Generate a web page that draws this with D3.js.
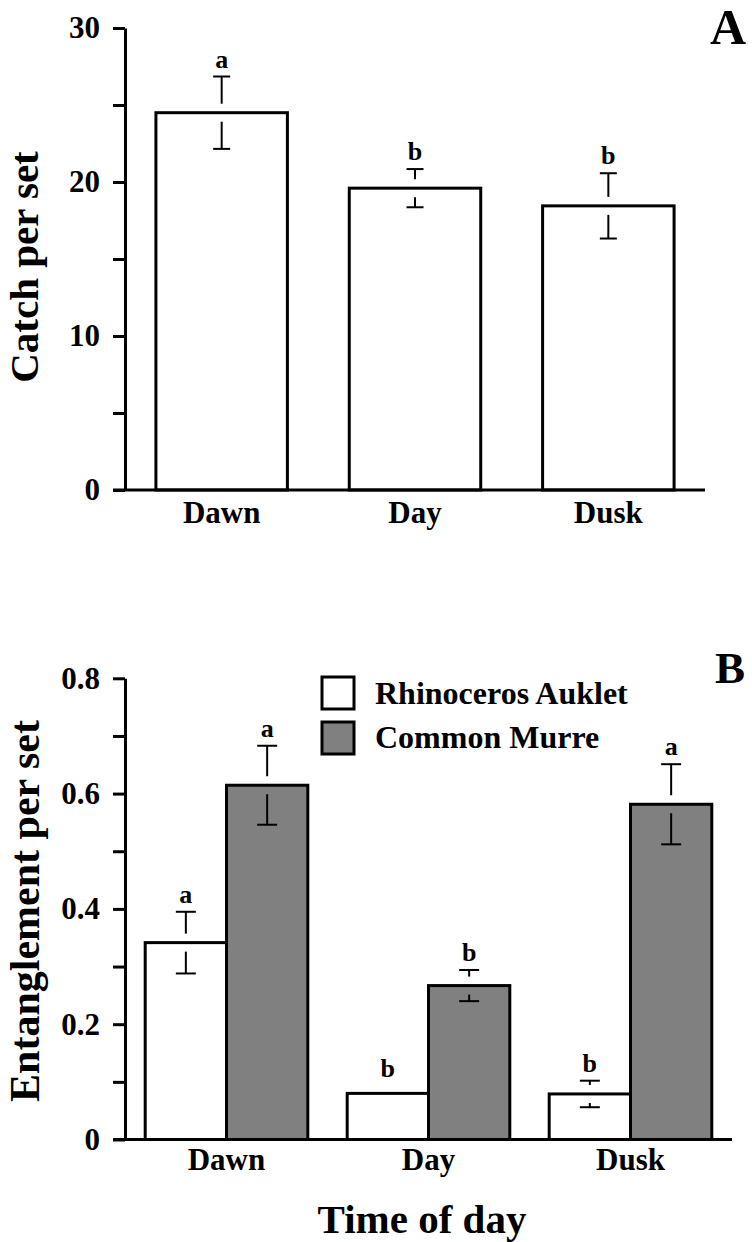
<!DOCTYPE html>
<html>
<head>
<meta charset="utf-8">
<script src="https://cdn.jsdelivr.net/npm/d3@7"></script>
<style>
  html, body { margin: 0; padding: 0; background: #fff; }
  svg text { font-family: "Liberation Serif", "Times New Roman", serif; font-weight: bold; fill: #000; }
</style>
</head>
<body>
<svg id="chart" width="752" height="1242"></svg>
<script>
// ---- data ----
const categories = ["Dawn", "Day", "Dusk"];

// Panel A
const catchMean = [24.5, 19.6, 18.45];
const catchErr = [2.35, 1.24, 2.12];
const catchLetters = ["a", "b", "b"];
const catchTicks = [0, 5, 10, 15, 20, 25, 30];
const catchTickLabels = [0, 10, 20, 30];

// Panel B
const series = ["Rhinoceros Auklet", "Common Murre"];
const aukletMean = [0.3415, 0.080, 0.079];
const aukletErr = [0.0535, 0, 0.023];
const aukletLetters = ["a", "b", "b"];
const murreMean = [0.6145, 0.267, 0.5815];
const murreErr = [0.0685, 0.027, 0.0695];
const murreLetters = ["a", "b", "a"];
const entTicks = [0, 0.1, 0.2, 0.3, 0.4, 0.5, 0.6, 0.7, 0.8];
const entTickLabels = [0, 0.2, 0.4, 0.6, 0.8];
const seriesFill = ["#ffffff", "#808080"];

const svg = d3.select("#chart");
const GAP = 9;

function errorBar(g, cx, yTop, yHi, yLo, capW) {
  if (yTop - GAP > yHi + 0.5) {
    g.append("line").attr("x1", cx).attr("x2", cx).attr("y1", yHi).attr("y2", yTop - GAP)
      .attr("stroke", "#000").attr("stroke-width", 2);
    g.append("line").attr("x1", cx - capW / 2).attr("x2", cx + capW / 2).attr("y1", yHi).attr("y2", yHi)
      .attr("stroke", "#000").attr("stroke-width", 2);
  }
  if (yLo > yTop + GAP + 0.5) {
    g.append("line").attr("x1", cx).attr("x2", cx).attr("y1", yTop + GAP).attr("y2", yLo)
      .attr("stroke", "#000").attr("stroke-width", 2);
    g.append("line").attr("x1", cx - capW / 2).attr("x2", cx + capW / 2).attr("y1", yLo).attr("y2", yLo)
      .attr("stroke", "#000").attr("stroke-width", 2);
  }
}

function yAxisDraw(scale, x, ticks, labels, fmt) {
  const ax = d3.axisLeft(scale)
    .tickValues(ticks)
    .tickSize(12)
    .tickSizeOuter(0)
    .tickPadding(13)
    .tickFormat(d => labels.some(l => Math.abs(l - d) < 1e-9) ? fmt(d) : "");
  const g = svg.append("g").attr("transform", `translate(${x},0)`).call(ax);
  g.select(".domain").attr("stroke", "#000").attr("stroke-width", 3);
  g.selectAll(".tick line").attr("stroke", "#000").attr("stroke-width", 3);
  g.selectAll(".tick text").style("font-size", "31px").attr("fill", "#000");
  return g;
}

// ================= Panel A =================
const yA = d3.scaleLinear().domain([0, 30]).range([490, 28]);
const xA = d3.scaleBand().domain(categories).range([125, 705]).paddingInner(0.32).paddingOuter(0.16);

const gA = svg.append("g");
gA.selectAll("rect.bar").data(categories).enter().append("rect")
  .attr("class", "bar")
  .attr("x", d => xA(d))
  .attr("y", (d, i) => yA(catchMean[i]))
  .attr("width", xA.bandwidth())
  .attr("height", (d, i) => yA(0) - yA(catchMean[i]))
  .attr("fill", "#fff").attr("stroke", "#000").attr("stroke-width", 3);

categories.forEach((c, i) => {
  const cx = xA(c) + xA.bandwidth() / 2;
  const yHi = yA(catchMean[i] + catchErr[i]);
  errorBar(gA, cx, yA(catchMean[i]), yHi, yA(catchMean[i] - catchErr[i]), 17);
  gA.append("text").attr("x", cx).attr("y", yHi - 9).attr("text-anchor", "middle")
    .style("font-size", "26px").text(catchLetters[i]);
});

yAxisDraw(yA, 125, catchTicks, catchTickLabels, d => String(d));
// x axis line A
svg.append("line").attr("x1", 113).attr("x2", 705).attr("y1", yA(0)).attr("y2", yA(0))
  .attr("stroke", "#000").attr("stroke-width", 3);
svg.append("g").selectAll("text").data(categories).enter().append("text")
  .attr("x", d => xA(d) + xA.bandwidth() / 2).attr("y", 523)
  .attr("text-anchor", "middle").style("font-size", "31px").text(d => d);

svg.append("text").attr("transform", "translate(38,267) rotate(-90)")
  .attr("text-anchor", "middle").style("font-size", "41px").text("Catch per set");
svg.append("text").attr("x", 746).attr("y", 44).attr("text-anchor", "end")
  .style("font-size", "50px").text("A");

// ================= Panel B =================
const yB = d3.scaleLinear().domain([0, 0.8]).range([1139.5, 678.3]);
const x0 = d3.scaleBand().domain(categories).range([125, 732]).paddingInner(0.195).paddingOuter(0.1);
const x1 = d3.scaleBand().domain(series).range([0, x0.bandwidth()]);

const means = [aukletMean, murreMean];
const errs = [aukletErr, murreErr];
const letters = [aukletLetters, murreLetters];

const gB = svg.append("g");
categories.forEach((c, i) => {
  series.forEach((s, j) => {
    const x = x0(c) + x1(s);
    const m = means[j][i];
    gB.append("rect").attr("x", x).attr("y", yB(m))
      .attr("width", x1.bandwidth()).attr("height", yB(0) - yB(m))
      .attr("fill", seriesFill[j]).attr("stroke", "#000").attr("stroke-width", 3);
  });
});
categories.forEach((c, i) => {
  series.forEach((s, j) => {
    const cx = x0(c) + x1(s) + x1.bandwidth() / 2;
    const m = means[j][i], e = errs[j][i];
    let labelY;
    if (e > 0) {
      const yHi = yB(m + e);
      errorBar(gB, cx, yB(m), yHi, yB(m - e), 20);
      labelY = yHi - 9;
    } else {
      labelY = yB(m) - 16;
    }
    gB.append("text").attr("x", cx).attr("y", labelY).attr("text-anchor", "middle")
      .style("font-size", "26px").text(letters[j][i]);
  });
});

yAxisDraw(yB, 125, entTicks, entTickLabels, d => d === 0 ? "0" : d3.format(".1f")(d));
svg.append("line").attr("x1", 113).attr("x2", 732).attr("y1", yB(0)).attr("y2", yB(0))
  .attr("stroke", "#000").attr("stroke-width", 3);
svg.append("g").selectAll("text").data(categories).enter().append("text")
  .attr("x", d => x0(d) + x0.bandwidth() / 2).attr("y", 1170)
  .attr("text-anchor", "middle").style("font-size", "31px").text(d => d);

svg.append("text").attr("x", 422).attr("y", 1233).attr("text-anchor", "middle")
  .style("font-size", "41px").text("Time of day");
svg.append("text").attr("transform", "translate(39,911) rotate(-90)")
  .attr("text-anchor", "middle").style("font-size", "42px").text("Entanglement per set");
svg.append("text").attr("x", 745).attr("y", 683).attr("text-anchor", "end")
  .style("font-size", "45px").text("B");

// Legend
const leg = svg.append("g");
series.forEach((s, j) => {
  const y = 677 + j * 45;
  leg.append("rect").attr("x", 322).attr("y", y).attr("width", 32).attr("height", 32)
    .attr("fill", seriesFill[j]).attr("stroke", "#000").attr("stroke-width", 3);
  leg.append("text").attr("x", 375).attr("y", 704 + j * 44)
    .style("font-size", "32px").text(s);
});
</script>
</body>
</html>
